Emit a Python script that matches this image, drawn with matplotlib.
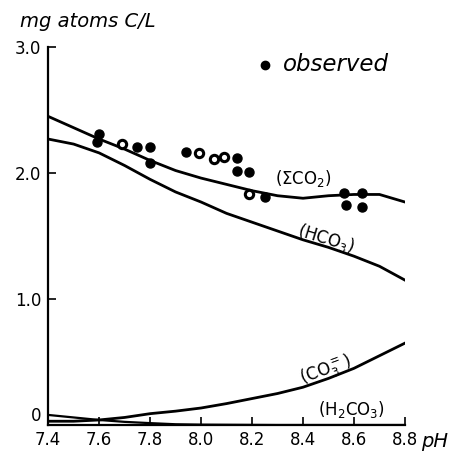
import matplotlib
matplotlib.use("Agg")
import matplotlib.pyplot as plt
import numpy as np

# pH grid used for the computed curves
ph = [7.4, 7.5, 7.6, 7.7, 7.8, 7.9, 8.0, 8.1, 8.2, 8.3, 8.4, 8.5, 8.6, 8.7, 8.8]

# mg atoms C / L
sum_co2 = [2.45, 2.36, 2.27, 2.19, 2.10, 2.02, 1.96, 1.91, 1.86, 1.82, 1.80, 1.82, 1.83, 1.83, 1.77]
hco3 = [2.27, 2.23, 2.16, 2.06, 1.95, 1.85, 1.77, 1.68, 1.61, 1.54, 1.47, 1.41, 1.34, 1.26, 1.15]
co3 = [0.03, 0.03, 0.04, 0.06, 0.09, 0.11, 0.135, 0.17, 0.21, 0.25, 0.30, 0.37, 0.45, 0.55, 0.65]
h2co3 = [0.08, 0.06, 0.04, 0.025, 0.015, 0.006, 0.003, 0.002, 0.001, 0.0, 0.0, 0.0, 0.0, 0.0, 0.0]

# observed points (solid dots)
obs_ph = [7.60, 7.59, 7.75, 7.80, 7.80, 7.94, 8.14, 8.14, 8.19, 8.25, 8.56, 8.63, 8.57, 8.63]
obs_c = [2.31, 2.25, 2.21, 2.21, 2.08, 2.17, 2.12, 2.02, 2.01, 1.81, 1.84, 1.84, 1.75, 1.73]
# observed points drawn as small rings
ring_ph = [7.69, 7.99, 8.05, 8.09, 8.19]
ring_c = [2.23, 2.16, 2.11, 2.13, 1.83]

xticks = [7.4, 7.6, 7.8, 8.0, 8.2, 8.4, 8.6, 8.8]
xlabels = ["7.4", "7.6", "7.8", "8.0", "8.2", "8.4", "8.6", "8.8"]
yticks = [0, 1.0, 2.0, 3.0]
ylabels = ["0", "1.0", "2.0", "3.0"]

fig = plt.figure(figsize=(4.54, 4.57), dpi=100)
ax = fig.add_axes([0.106, 0.070, 0.786, 0.827])

lw = 2.0
ax.plot(ph, sum_co2, color="black", lw=lw)
ax.plot(ph, hco3, color="black", lw=lw)
ax.plot(ph, co3, color="black", lw=lw)
ax.plot(ph, h2co3, color="black", lw=1.6)

ax.plot(obs_ph, obs_c, "o", color="black", ms=6.5, ls="none")
ax.plot(ring_ph, ring_c, "o", mfc="white", mec="black", mew=2.2, ms=6, ls="none")

ax.spines["top"].set_visible(False)
ax.spines["right"].set_visible(False)
ax.spines["left"].set_linewidth(1.6)
ax.spines["bottom"].set_linewidth(1.6)
ax.tick_params(direction="in", length=6, width=1.2)
ax.set_xticks(xticks)
ax.set_xticklabels(xlabels, fontsize=12)
ax.set_yticks(yticks)
ax.set_yticklabels(ylabels, fontsize=12)
ax.tick_params(axis="x", pad=4)
ax.tick_params(axis="y", pad=5)
# lift the "0" so it clears the 7.4 label
ax.get_yticklabels()[0].set_va("bottom")

# curve labels
ax.text(8.40, 1.96, r"$(\Sigma\mathrm{CO_2})$", fontsize=12, ha="center", va="center")
ax.text(8.49, 1.48, r"$(\mathrm{HCO_3})$", fontsize=12, ha="center", va="center", rotation=-17)
ax.text(8.49, 0.43, r"$(\mathrm{CO_3^{=}})$", fontsize=12, ha="center", va="center", rotation=20)
ax.text(8.59, 0.12, r"$(\mathrm{H_2CO_3})$", fontsize=12, ha="center", va="center")

# legend
ax.plot([8.25], [2.86], "o", color="black", ms=6, clip_on=False)
ax.text(8.32, 2.86, "observed", fontsize=16.5, style="italic", ha="left", va="center")

# axis titles
ax.text(8.865, -0.13, "pH", fontsize=14, style="italic", ha="left", va="center",
        transform=ax.transData, clip_on=False)
fig.text(0.044, 0.952, "mg atoms C/L", fontsize=14, style="italic", ha="left", va="center")

ax.set_xlim(7.4, 8.8)
ax.set_ylim(0, 3.0)

fig.savefig("out.png", dpi=100)
